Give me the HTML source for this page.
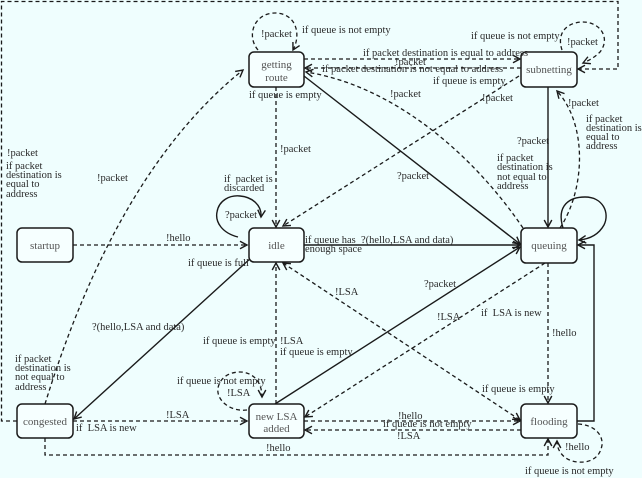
<!DOCTYPE html>
<html>
<head>
<meta charset="utf-8">
<style>
html,body{margin:0;padding:0;background:#effefe;}
svg{display:block;}
text{font-family:"Liberation Serif",serif;font-size:10.5px;fill:#2a2a2a;white-space:pre;}
.n{fill:#555;font-size:11px;}
.d{fill:none;stroke:#1a1a1a;stroke-width:1.3;stroke-dasharray:4,3;}
.s{fill:none;stroke:#1a1a1a;stroke-width:1.4;}
.box{fill:#f6ffff;stroke:#1a1a1a;stroke-width:1.5;}
</style>
</head>
<body>
<svg width="642" height="478" viewBox="0 0 642 478" xmlns="http://www.w3.org/2000/svg">
<defs>
<marker id="a" markerUnits="userSpaceOnUse" markerWidth="12" markerHeight="12" refX="0" refY="0" viewBox="-9 -6 10 12" orient="auto">
<path d="M-7,-3.8 L0,0 L-7,3.8" fill="none" stroke="#1a1a1a" stroke-width="1.4"/>
</marker>
<marker id="b" markerUnits="userSpaceOnUse" markerWidth="12" markerHeight="12" refX="0" refY="0" viewBox="-1 -6 10 12" orient="auto">
<path d="M7,-3.8 L0,0 L7,3.8" fill="none" stroke="#1a1a1a" stroke-width="1.4"/>
</marker>
</defs>
<rect x="0" y="0" width="642" height="478" fill="#effefe"/>

<!-- edges -->
<!-- outer congested -> subnetting -->
<path class="d" d="M17,421 L1.5,421 L1.5,1.5 L618,1.5 L618,69 L578,69" marker-end="url(#a)"/>
<!-- getting route loop -->
<path class="d" d="M258,50 C246,36 254,13 275,13 C295,13 302,33 293,50" marker-end="url(#a)"/>
<!-- subnetting loop -->
<path class="d" d="M562,50 C556,32 568,22 583,22 C600,22 611,38 600,52 C595,57 590,60 583,63" marker-end="url(#a)"/>
<!-- getting route -> subnetting -->
<path class="d" d="M304,59 L520,59" marker-end="url(#a)"/>
<!-- subnetting -> getting route -->
<path class="d" d="M521,68 L305,68" marker-end="url(#a)"/>
<!-- subnetting -> idle -->
<path class="d" d="M519,76 L283,226" marker-end="url(#a)"/>
<!-- queuing -> getting route curve -->
<path class="d" d="M523,228 C470,150 390,85 306,72" marker-end="url(#a)"/>
<!-- getting route -> queuing solid -->
<path class="s" d="M304,76 L520,244" marker-end="url(#a)"/>
<!-- subnetting -> queuing -->
<path class="s" d="M548,87 L548,227" marker-end="url(#a)"/>
<!-- queuing -> subnetting curve -->
<path class="d" d="M560,228 C585,190 588,125 557,91" marker-end="url(#a)"/>
<!-- queuing loop -->
<path class="s" d="M563,228 C556,205 570,197 585,197 C603,197 610,213 604,225 C599,234 590,239 579,240" marker-end="url(#a)"/>
<!-- flooding -> queuing -->
<path class="s" d="M577,421 L594,421 L594,245 L578,245" marker-end="url(#a)"/>
<!-- queuing -> flooding -->
<path class="d" d="M548,263 L548,403" marker-end="url(#a)"/>
<!-- idle <-> flooding -->
<path class="d" d="M283,263 L520,420" marker-start="url(#b)" marker-end="url(#a)"/>
<!-- queuing -> new LSA -->
<path class="d" d="M545,263 L305,417" marker-end="url(#a)"/>
<!-- new LSA -> queuing -->
<path class="s" d="M275,404 L520,247" marker-end="url(#a)"/>
<!-- new LSA -> idle -->
<path class="d" d="M276,404 L276,263" marker-end="url(#a)"/>
<!-- getting route -> idle -->
<path class="d" d="M276,87 L276,227" marker-end="url(#a)"/>
<!-- idle loop -->
<path class="s" d="M238,237 C222,233 215,222 217,212 C219,200 230,195 240,196 C252,197 262,205 261,217" marker-end="url(#a)"/>
<!-- startup -> idle -->
<path class="d" d="M73,245 L247,245" marker-end="url(#a)"/>
<!-- idle -> queuing -->
<path class="s" d="M304,245 L520,245" marker-end="url(#a)"/>
<!-- idle -> congested -->
<path class="s" d="M252,257 L74,419" marker-end="url(#a)"/>
<!-- congested -> getting route -->
<path class="d" d="M45,404 Q117,171 243,70" marker-end="url(#a)"/>
<!-- congested -> new LSA -->
<path class="d" d="M73,421 L247,421" marker-end="url(#a)"/>
<!-- congested -> flooding -->
<path class="d" d="M45,438 L45,455 L548,455 L548,439" marker-end="url(#a)"/>
<!-- new LSA -> flooding -->
<path class="d" d="M304,421 L520,421" marker-end="url(#a)"/>
<!-- flooding -> new LSA -->
<path class="d" d="M521,430 L305,430" marker-end="url(#a)"/>
<!-- new LSA loop -->
<path class="d" d="M247,410 C230,412 216,400 218,388 C220,377 230,372 240,372 C253,372 262,382 262,397" marker-end="url(#a)"/>
<!-- flooding loop -->
<path class="d" d="M578,424 C595,425 603,435 602,445 C600,458 590,463 578,462 C565,461 557,452 557,441" marker-end="url(#a)"/>

<!-- nodes -->
<rect class="box" x="249" y="52" width="55" height="35" rx="5"/>
<text class="n" x="276.5" y="68" text-anchor="middle">getting</text>
<text class="n" x="276.5" y="81" text-anchor="middle">route</text>
<rect class="box" x="521" y="52" width="56" height="35" rx="5"/>
<text class="n" x="549" y="73" text-anchor="middle">subnetting</text>
<rect class="box" x="17" y="228" width="56" height="34" rx="5"/>
<text class="n" x="45" y="249" text-anchor="middle">startup</text>
<rect class="box" x="249" y="228" width="55" height="34" rx="5"/>
<text class="n" x="276.5" y="249" text-anchor="middle">idle</text>
<rect class="box" x="521" y="228" width="56" height="35" rx="5"/>
<text class="n" x="549" y="249" text-anchor="middle">queuing</text>
<rect class="box" x="17" y="404" width="56" height="34" rx="5"/>
<text class="n" x="45" y="425" text-anchor="middle">congested</text>
<rect class="box" x="249" y="404" width="55" height="34" rx="5"/>
<text class="n" x="276.5" y="420" text-anchor="middle">new LSA</text>
<text class="n" x="276.5" y="432" text-anchor="middle">added</text>
<rect class="box" x="521" y="404" width="56" height="34" rx="5"/>
<text class="n" x="549" y="425" text-anchor="middle">flooding</text>

<!-- labels -->
<text x="261" y="37">!packet</text>
<text x="302" y="33">if queue is not empty</text>
<text x="471" y="39">if queue is not empty</text>
<text x="567" y="45">!packet</text>
<text x="363" y="56">if packet destination is equal to address</text>
<text x="395" y="65">!packet</text>
<text x="322" y="72">if packet destination is not equal to address</text>
<text x="433" y="84">if queue is empty</text>
<text x="482" y="101">!packet</text>
<text x="390" y="97">!packet</text>
<text x="249" y="98">if queue is empty</text>
<text x="280" y="152">!packet</text>
<text x="517" y="144">?packet</text>
<text x="568" y="106">!packet</text>
<text x="586" y="122">if packet</text>
<text x="586" y="131">destination is</text>
<text x="586" y="140">equal to</text>
<text x="586" y="149">address</text>
<text x="397" y="179">?packet</text>
<text x="497" y="161">if packet</text>
<text x="497" y="170">destination is</text>
<text x="497" y="180">not equal to</text>
<text x="497" y="189">address</text>
<text x="7" y="156">!packet</text>
<text x="6" y="169">if packet</text>
<text x="6" y="178">destination is</text>
<text x="6" y="187">equal to</text>
<text x="6" y="197">address</text>
<text x="97" y="181">!packet</text>
<text x="224" y="182">if  packet is</text>
<text x="224" y="191">discarded</text>
<text x="225" y="218">?packet</text>
<text x="166" y="241">!hello</text>
<text x="188" y="266">if queue is full</text>
<text x="305" y="243">if queue has</text>
<text x="305" y="252">enough space</text>
<text x="361" y="243">?(hello,LSA and data)</text>
<text x="92" y="330">?(hello,LSA and data)</text>
<text x="335" y="295">!LSA</text>
<text x="424" y="287">?packet</text>
<text x="437" y="320">!LSA</text>
<text x="481" y="316">if  LSA is new</text>
<text x="552" y="336">!hello</text>
<text x="482" y="392">if queue is empty</text>
<text x="203" y="344">if queue is empty</text>
<text x="280" y="344">!LSA</text>
<text x="280" y="355">if queue is empty</text>
<text x="15" y="362">if packet</text>
<text x="15" y="371">destination is</text>
<text x="15" y="380">not equal to</text>
<text x="15" y="390">address</text>
<text x="177" y="384">if queue is not empty</text>
<text x="227" y="396">!LSA</text>
<text x="166" y="418">!LSA</text>
<text x="76" y="431">if  LSA is new</text>
<text x="398" y="419">!hello</text>
<text x="383" y="427">if queue is not empty</text>
<text x="397" y="439">!LSA</text>
<text x="266" y="451">!hello</text>
<text x="565" y="450">!hello</text>
<text x="525" y="474">if queue is not empty</text>
</svg>
</body>
</html>
